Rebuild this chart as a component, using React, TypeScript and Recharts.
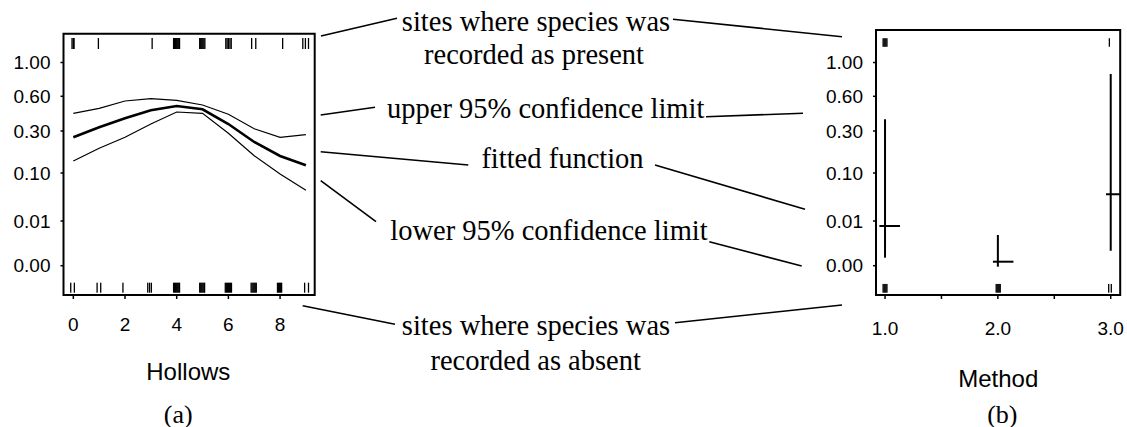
import React from 'react';
import { ComposedChart, Line, Scatter, XAxis, YAxis, ReferenceArea } from 'recharts';

// ---------- Panel (a): Hollows (values on the plot's link scale) ----------
const hollowsX = [0, 1, 2, 3, 4, 5, 6, 7, 8, 9];
const hollowsFitted = [15.77, 16.77, 17.67, 18.47, 18.9, 18.57, 17.1, 15.3, 13.9, 12.97];
const hollowsUpper = [18.17, 18.67, 19.4, 19.63, 19.47, 19.0, 18.07, 16.63, 15.77, 16.03];
const hollowsLower = [13.4, 14.67, 15.77, 17.1, 18.3, 18.17, 16.17, 13.93, 12.1, 10.47];

// rug: jittered Hollows values of sites (present = top, absent = bottom)
const presentHollows = [
  -0.05, 0, 0.03, 0.97, 3.05,
  3.88, 3.92, 3.96, 4.0, 4.04, 4.08, 4.11,
  4.89, 4.93, 4.97, 5.01, 5.05, 5.09,
  5.9, 5.95, 6.0, 6.06, 6.11,
  6.9, 7.06, 8.1, 8.88, 8.98, 9.1,
];
const absentHollows = [
  -0.1, 0.04, 0.92, 1.06, 1.92, 2.88, 2.95, 3.02,
  3.88, 3.92, 3.96, 4.0, 4.04, 4.08, 4.11,
  4.89, 4.93, 4.97, 5.01, 5.05, 5.08,
  5.88, 5.92, 5.96, 6.0, 6.04, 6.08, 6.12,
  6.88, 6.92, 6.96, 7.0, 7.04, 7.08,
  7.9, 7.94, 7.98, 8.02, 8.06,
  8.95, 9.1,
];

// ---------- Panel (b): Method ----------
const methodLevels = [1, 2, 3];
const methodFitted = [6.9, 3.33, 10.07];
const methodLower = [3.73, 2.83, 4.43];
const methodUpper = [17.57, 6.0, 22.1];
const methodBarFrom = [0.95, 1.956, 2.958];
const methodBarTo = [1.133, 2.138, 3.135];
const presentMethod = [0.983, 0.992, 1.0, 1.008, 1.017, 2.988];
const absentMethod = [0.983, 0.992, 1.0, 1.008, 1.017, 1.985, 1.994, 2.003, 2.012, 2.021, 2.982, 3.005];

// ---------- Axes ----------
const probTicks = [2.93, 7.4, 12.2, 16.4, 19.87, 23.25];
const probLabels = ['0.00', '0.01', '0.10', '0.30', '0.60', '1.00'];
const hollowsTicks = [0, 2, 4, 6, 8];
const methodTicks = [1, 1.5, 2, 2.5, 3];
const methodTickLabels = ['1.0', '', '2.0', '', '3.0'];

// layout constants (rug row levels on the y axis)
const RUG_TOP_A = 25.15;
const RUG_BOT_A = 0.73;
const RUG_TOP_B = 25.25;
const RUG_BOT_B = 0.67;

const hollowsRows = hollowsX.map((x, i) => ({
  x,
  fit: hollowsFitted[i],
  upper: hollowsUpper[i],
  lower: hollowsLower[i],
}));

const tickStyle = { fill: '#000', fontSize: 19, fontFamily: 'Liberation Sans, Arial, sans-serif' };
const probFmt = (v: number) => {
  const i = probTicks.indexOf(v);
  return i >= 0 ? probLabels[i] : '';
};
const methodFmt = (v: number) => {
  const i = methodTicks.indexOf(v);
  return i >= 0 ? methodTickLabels[i] : '';
};

const rugShape = (h: number) => (p: any) => (
  <rect x={p.cx - 0.65} y={p.cy - h / 2} width={1.3} height={h} fill="#000" />
);
const noShape = () => <g />;

const serif = 'Liberation Serif, Times New Roman, serif';
const sans = 'Liberation Sans, Arial, sans-serif';

const leaders: [number, number, number, number][] = [
  [321, 36, 397, 18.3],
  [673, 19.3, 842, 36.7],
  [320.7, 115, 375, 107.3],
  [706, 116.7, 803, 113.3],
  [320.7, 151.7, 468.3, 165],
  [655, 165, 805, 209.3],
  [320.7, 180.7, 376, 221.7],
  [709.3, 241.7, 801.7, 266],
  [302.7, 305.7, 395, 324.3],
  [675, 322.7, 842, 305],
];

export default function App() {
  const xDomA: [number, number] = [-0.38, 9.34];
  const yDomA: [number, number] = [0, 26.13];
  const xDomB: [number, number] = [0.92, 3.084];
  const yDomB: [number, number] = [0, 26.5];
  return (
    <div style={{ position: 'relative', width: 1127, height: 427, overflow: 'hidden', background: '#fff' }}>
      <style>{'body{margin:0}'}</style>
      <div style={{ position: 'absolute', left: 0, top: 0 }}>
        <ComposedChart width={330} height={427} data={hollowsRows}
          margin={{ top: 33.7, right: 15.3, bottom: 92, left: 13.5 }}>
          <XAxis dataKey="x" type="number" domain={xDomA} allowDataOverflow ticks={hollowsTicks}
            axisLine={false} tickSize={4} tickMargin={19} tick={tickStyle} height={40}
            tickLine={{ stroke: '#000', strokeWidth: 1.5 }} />
          <YAxis type="number" domain={yDomA} allowDataOverflow ticks={probTicks} tickFormatter={probFmt}
            axisLine={false} tickSize={3} tickMargin={10} tick={tickStyle} width={50}
            tickLine={{ stroke: '#000', strokeWidth: 1.5 }} />
          <ReferenceArea x1={xDomA[0]} x2={xDomA[1]} y1={yDomA[0]} y2={yDomA[1]}
            fill="none" fillOpacity={0} stroke="#000" strokeWidth={2} strokeOpacity={1} />
          <Line dataKey="upper" type="linear" stroke="#000" strokeWidth={1.2} dot={false} isAnimationActive={false} />
          <Line dataKey="lower" type="linear" stroke="#000" strokeWidth={1.2} dot={false} isAnimationActive={false} />
          <Line dataKey="fit" type="linear" stroke="#000" strokeWidth={2.6} dot={false} isAnimationActive={false} />
          <Scatter data={presentHollows.map((x) => ({ x, y: RUG_TOP_A }))} dataKey="y"
            shape={rugShape(11)} isAnimationActive={false} />
          <Scatter data={absentHollows.map((x) => ({ x, y: RUG_BOT_A }))} dataKey="y"
            shape={rugShape(10)} isAnimationActive={false} />
        </ComposedChart>
      </div>

      <div style={{ position: 'absolute', left: 800, top: 0 }}>
        <ComposedChart width={327} height={427}
          margin={{ top: 30, right: 6.8, bottom: 92, left: 26 }}>
          <XAxis dataKey="x" type="number" domain={xDomB} allowDataOverflow ticks={methodTicks}
            tickFormatter={methodFmt} axisLine={false} tickSize={4} tickMargin={22.7} tick={tickStyle}
            height={40} tickLine={{ stroke: '#000', strokeWidth: 1.5 }} />
          <YAxis type="number" domain={yDomB} allowDataOverflow ticks={probTicks} tickFormatter={probFmt}
            axisLine={false} tickSize={3} tickMargin={10} tick={tickStyle} width={50}
            tickLine={{ stroke: '#000', strokeWidth: 1.5 }} />
          <ReferenceArea x1={xDomB[0]} x2={xDomB[1]} y1={yDomB[0]} y2={yDomB[1]}
            fill="none" fillOpacity={0} stroke="#000" strokeWidth={2} strokeOpacity={1} />
          {methodLevels.map((lvl, i) => (
            <Scatter key={'ci' + i}
              data={[{ x: lvl, y: methodLower[i] }, { x: lvl, y: methodUpper[i] }]} dataKey="y"
              line={{ stroke: '#000', strokeWidth: 2 }} shape={noShape} isAnimationActive={false} />
          ))}
          {methodLevels.map((lvl, i) => (
            <Scatter key={'fit' + i}
              data={[{ x: methodBarFrom[i], y: methodFitted[i] }, { x: methodBarTo[i], y: methodFitted[i] }]}
              dataKey="y" line={{ stroke: '#000', strokeWidth: 2 }} shape={noShape} isAnimationActive={false} />
          ))}
          <Scatter data={presentMethod.map((x) => ({ x, y: RUG_TOP_B }))} dataKey="y"
            shape={rugShape(8.5)} isAnimationActive={false} />
          <Scatter data={absentMethod.map((x) => ({ x, y: RUG_BOT_B }))} dataKey="y"
            shape={rugShape(8.7)} isAnimationActive={false} />
        </ComposedChart>
      </div>

      <svg width={1127} height={427} style={{ position: 'absolute', left: 0, top: 0, pointerEvents: 'none' }}>
        {leaders.map(([x1, y1, x2, y2], i) => (
          <line key={i} x1={x1} y1={y1} x2={x2} y2={y2} stroke="#000" strokeWidth={1.6} />
        ))}
        <g fontFamily={serif} fontSize={28.5} fill="#000" textAnchor="middle">
          <text x={536} y={31}>sites where species was</text>
          <text x={534} y={64.3}>recorded as present</text>
          <text x={545.7} y={118}>upper 95% confidence limit</text>
          <text x={562.5} y={168}>fitted function</text>
          <text x={549} y={240}>lower 95% confidence limit</text>
          <text x={536} y={335}>sites where species was</text>
          <text x={535.7} y={370}>recorded as absent</text>
        </g>
        <g fontFamily={sans} fontSize={24} fill="#000" textAnchor="middle">
          <text x={188.3} y={380}>Hollows</text>
          <text x={998.3} y={386.7}>Method</text>
        </g>
        <g fontFamily={serif} fontSize={26} fill="#000" textAnchor="middle">
          <text x={178.3} y={422.5}>(a)</text>
          <text x={1002.3} y={422.5}>(b)</text>
        </g>
      </svg>
    </div>
  );
}
